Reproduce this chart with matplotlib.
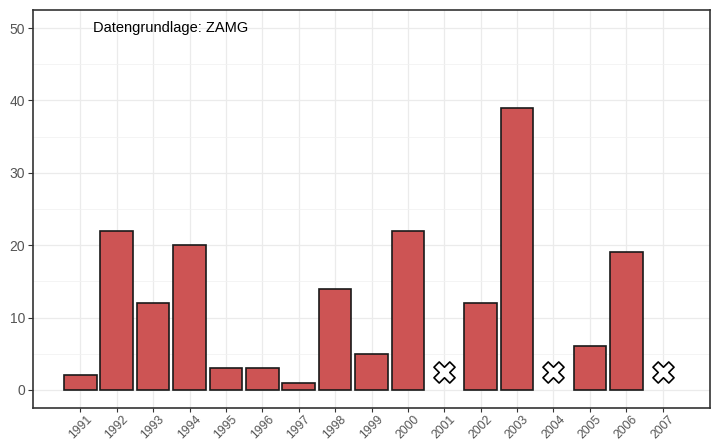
import numpy as np
import matplotlib.pyplot as plt

plt.rcParams['font.family'] = ['Liberation Sans', 'DejaVu Sans']

years = list(range(1991, 2008))
values = [2, 22, 12, 20, 3, 3, 1, 14, 5, 22, np.nan, 12, 39, np.nan, 6, 19, np.nan]
missing_y = 2.5
note = "Datengrundlage: ZAMG"

fig = plt.figure(figsize=(7.11, 4.41), dpi=100)
ax = fig.add_axes([33 / 711, 1 - 408 / 441, 677 / 711, 398 / 441])

vals = np.array(values, dtype=float)
ok = ~np.isnan(vals)
yrs = np.array(years)

ax.bar(yrs[ok], vals[ok], width=0.9, color='#CD5454', edgecolor='#1a1a1a',
       linewidth=1.2, zorder=3)
ax.scatter(yrs[~ok], np.full((~ok).sum(), missing_y), marker='X', s=230,
           facecolor='white', edgecolor='black', linewidth=1.2, zorder=4)

ax.set_xlim(1989.7, 2008.3)
ax.set_ylim(-2.5, 52.5)
ax.set_xticks(years)
ax.set_xticklabels([str(y) for y in years], rotation=45, ha='center',
                   va='top', fontsize=8.8, color='#555555')
ax.set_yticks(range(0, 51, 10))
ax.set_yticks(range(5, 51, 10), minor=True)
ax.tick_params(axis='y', labelsize=10, labelcolor='#555555', color='#333333',
               length=3.5, width=0.8, pad=2)
ax.tick_params(axis='x', color='#333333', length=3, width=0.8, pad=1)
ax.tick_params(axis='y', which='minor', length=0)

ax.grid(True, which='major', color='#EBEBEB', linewidth=0.9, zorder=0)
ax.grid(True, which='minor', axis='y', color='#F2F2F2', linewidth=0.6, zorder=0)
ax.set_axisbelow(True)
for sp in ax.spines.values():
    sp.set_color('#333333')
    sp.set_linewidth(1.2)

ax.text(1991.35, 50, note, fontsize=10.5, ha='left', va='center', color='black')

fig.savefig('out.png', dpi=100)
